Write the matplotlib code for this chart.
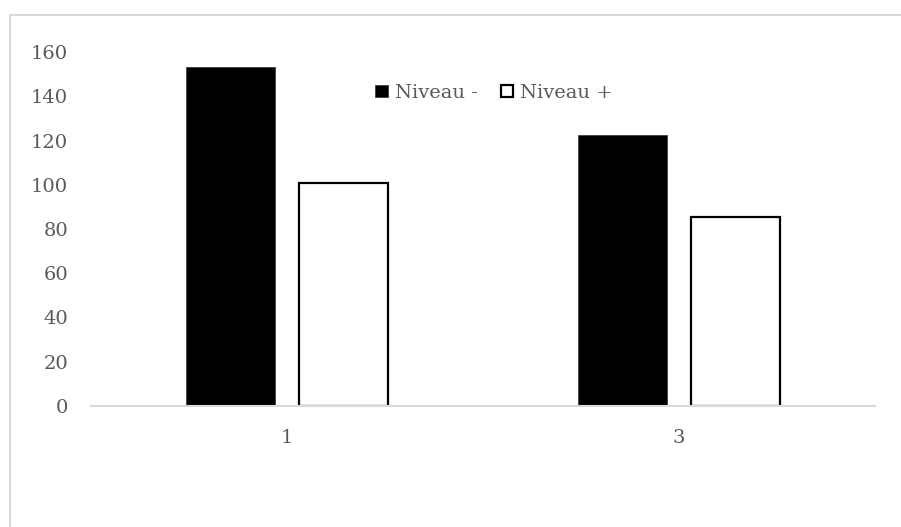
import numpy as np
import matplotlib.pyplot as plt
from matplotlib.patches import Rectangle

categories = ['1', '3']
niveau_moins = [153, 122.5]
niveau_plus = [101, 85.5]
series_labels = ['Niveau -', 'Niveau +']
y_ticks = [0, 20, 40, 60, 80, 100, 120, 140, 160]

plt.rcParams['font.family'] = ['DejaVu Serif']
text_color = '#595959'
line_gray = '#d9d9d9'
fs = 14

fig = plt.figure(figsize=(9.01, 5.27), dpi=100)
ax = fig.add_axes([91 / 901, 1 - 406 / 527, (875 - 91) / 901, (406 - 52) / 527])

x = np.arange(len(categories))
width = 0.227
offset = 0.143
ax.bar(x - offset, niveau_moins, width, color='black', edgecolor='#404040',
       linewidth=0.6, label=series_labels[0])
ax.bar(x + offset, niveau_plus, width, color='white', edgecolor='black',
       linewidth=1.6, label=series_labels[1])

ax.set_xlim(-0.5, len(categories) - 0.5)
ax.set_ylim(0, 160)
ax.set_yticks(y_ticks)
ax.set_xticks(x)
ax.set_xticklabels(categories)
ax.tick_params(axis='y', length=0, pad=16.5, labelsize=fs, labelcolor=text_color)
ax.tick_params(axis='x', length=0, pad=16.5, labelsize=fs, labelcolor=text_color)

for side in ['left', 'right', 'top']:
    ax.spines[side].set_visible(False)
ax.spines['bottom'].set_color(line_gray)
ax.spines['bottom'].set_linewidth(1.5)

leg = fig.legend(loc='center', bbox_to_anchor=(494 / 901, 1 - 93 / 527), ncol=2,
                 frameon=False, fontsize=fs, handlelength=0.62, handleheight=0.62,
                 handletextpad=0.36, columnspacing=1.2)
for t in leg.get_texts():
    t.set_color(text_color)

# light chart border
fig.add_artist(Rectangle((10 / 901, -0.1), 1.2, 1.1 - 15 / 527, transform=fig.transFigure,
                         fill=False, edgecolor=line_gray, linewidth=1.5))

fig.savefig('out.png', dpi=100)
